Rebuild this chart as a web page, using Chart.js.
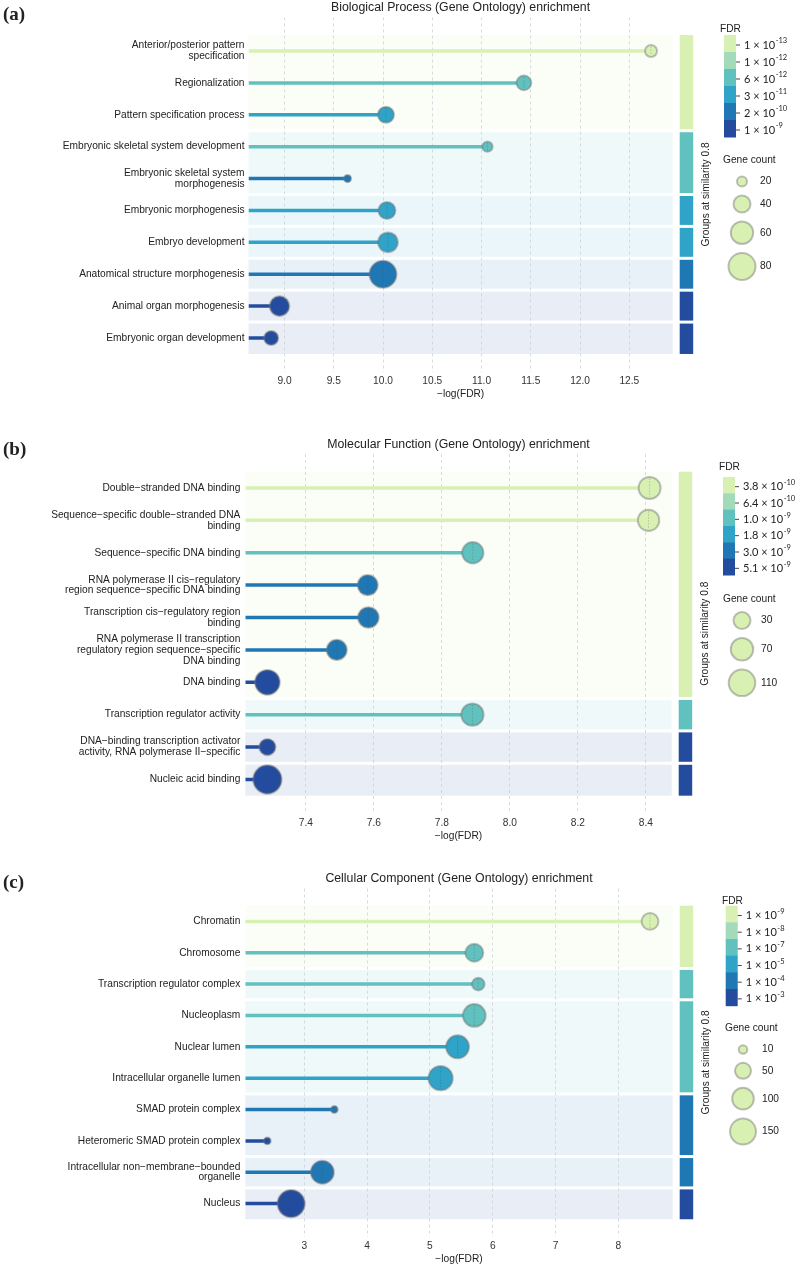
<!DOCTYPE html>
<html>
<head>
<meta charset="utf-8">
<script src="https://cdn.jsdelivr.net/npm/chart.js@4.4.1/dist/chart.umd.min.js"></script>
<style>
  html, body { margin: 0; padding: 0; background: #fff; }
  body { width: 797px; height: 1269px; position: relative; overflow: hidden; }
  .panel { position: absolute; left: 0; width: 797px; }
</style>
</head>
<body>
<div class="panel" style="top:0;height:420px"><canvas id="chart-a"></canvas></div>
<div class="panel" style="top:420px;height:430px"><canvas id="chart-b"></canvas></div>
<div class="panel" style="top:850px;height:419px"><canvas id="chart-c"></canvas></div>
<script>
// FDR colour steps, light -> dark
const palette = ['#d9f0b3', '#a3dab9', '#60c1bf', '#2fa3c8', '#1f77b4', '#234c9f'];

// (a) Biological Process
const bpTerms = [['Anterior/posterior pattern', 'specification'], 'Regionalization', 'Pattern specification process',
  'Embryonic skeletal system development', ['Embryonic skeletal system', 'morphogenesis'], 'Embryonic morphogenesis',
  'Embryo development', 'Anatomical structure morphogenesis', 'Animal organ morphogenesis', 'Embryonic organ development'];
const bpLogFdr = [12.72, 11.43, 10.03, 11.06, 9.64, 10.04, 10.05, 10.0, 8.95, 8.865];
const bpGeneCount = [25, 33, 37, 21, 14, 40, 50, 80, 49, 31];
const bpFdrLevel = [0, 2, 3, 2, 4, 3, 3, 4, 5, 5];
const bpGroup = [0, 0, 0, 1, 1, 2, 3, 4, 5, 6];
const bpGroupLevel = [0, 2, 3, 3, 4, 5, 5];
const bpFdrMantissa = ['1', '1', '6', '3', '2', '1'];
const bpFdrExponent = ['-13', '-12', '-12', '-11', '-10', '-9'];
const bpSizeBreaks = [20, 40, 60, 80];
const bpXTicks = [9.0, 9.5, 10.0, 10.5, 11.0, 11.5, 12.0, 12.5];

// (b) Molecular Function
const mfTerms = ['Double\u2212stranded DNA binding', ['Sequence\u2212specific double\u2212stranded DNA', 'binding'],
  'Sequence\u2212specific DNA binding', ['RNA polymerase II cis\u2212regulatory', 'region sequence\u2212specific DNA binding'],
  ['Transcription cis\u2212regulatory region', 'binding'],
  ['RNA polymerase II transcription', 'regulatory region sequence\u2212specific', 'DNA binding'],
  'DNA binding', 'Transcription regulator activity',
  ['DNA\u2212binding transcription activator', 'activity, RNA polymerase II\u2212specific'], 'Nucleic acid binding'];
const mfLogFdr = [8.411, 8.408, 7.891, 7.582, 7.584, 7.491, 7.287, 7.89, 7.287, 7.287];
const mfGeneCount = [65, 60, 60, 50, 55, 50, 90, 68, 26, 130];
const mfFdrLevel = [0, 0, 2, 4, 4, 4, 5, 2, 5, 5];
const mfGroup = [0, 0, 0, 0, 0, 0, 0, 1, 2, 3];
const mfGroupLevel = [0, 2, 5, 5];
const mfFdrMantissa = ['3.8', '6.4', '1.0', '1.8', '3.0', '5.1'];
const mfFdrExponent = ['-10', '-10', '-9', '-9', '-9', '-9'];
const mfSizeBreaks = [30, 70, 110];
const mfXTicks = [7.4, 7.6, 7.8, 8.0, 8.2, 8.4];

// (c) Cellular Component
const ccTerms = ['Chromatin', 'Chromosome', 'Transcription regulator complex', 'Nucleoplasm', 'Nuclear lumen',
  'Intracellular organelle lumen', 'SMAD protein complex', 'Heteromeric SMAD protein complex',
  ['Intracellular non\u2212membrane\u2212bounded', 'organelle'], 'Nucleus'];
const ccLogFdr = [8.505, 5.707, 5.77, 5.707, 5.44, 5.17, 3.478, 2.41, 3.287, 2.79];
const ccGeneCount = [55, 65, 28, 111, 114, 129, 5, 5, 114, 167];
const ccFdrLevel = [0, 2, 2, 2, 3, 3, 4, 5, 4, 5];
const ccGroup = [0, 0, 1, 2, 2, 2, 3, 3, 4, 5];
const ccGroupLevel = [0, 2, 2, 4, 4, 5];
const ccFdrMantissa = ['1', '1', '1', '1', '1', '1'];
const ccFdrExponent = ['-9', '-8', '-7', '-5', '-4', '-3'];
const ccSizeBreaks = [10, 50, 100, 150];
const ccXTicks = [3, 4, 5, 6, 7, 8];

const SANS = '"Liberation Sans", Arial, Helvetica, sans-serif';
const LATO = 'Lato, "Liberation Sans", sans-serif';
Chart.defaults.font.family = SANS;
Chart.defaults.color = '#333';

const panels = [
  {
    canvas: 'chart-a', tag: '(a)', tagY: 15, title: 'Biological Process (Gene Ontology) enrichment', titleY: 8,
    terms: bpTerms, logFdr: bpLogFdr, count: bpGeneCount, level: bpFdrLevel, group: bpGroup, groupLevel: bpGroupLevel,
    mant: bpFdrMantissa, exp: bpFdrExponent, sizes: bpSizeBreaks, xTicks: bpXTicks, digits: 1,
    height: 420, left: 248.5, right: 672.7, top: 17.5, bottom: 371.5, xMin: 8.635, xMax: 12.94, labelPad: 4,
    rA: -2.5, rB: 1.9,
    leg: { fdrX: 720, fdrY: 29, barX: 724, barTop: 35, barBottom: 137, geneX: 723, geneY: 160, cx: 742, textX: 760 },
  },
  {
    canvas: 'chart-b', tag: '(b)', tagY: 30, title: 'Molecular Function (Gene Ontology) enrichment', titleY: 25,
    terms: mfTerms, logFdr: mfLogFdr, count: mfGeneCount, level: mfFdrLevel, group: mfGroup, groupLevel: mfGroupLevel,
    mant: mfFdrMantissa, exp: mfFdrExponent, sizes: mfSizeBreaks, xTicks: mfXTicks, digits: 1,
    height: 430, left: 245.3, right: 671.7, top: 33.9, bottom: 393.5, xMin: 7.222, xMax: 8.476, labelPad: 5,
    rA: 4.25, rB: 0.958,
    leg: { fdrX: 719, fdrY: 47, barX: 723, barTop: 57, barBottom: 155, geneX: 723, geneY: 179, cx: 742, textX: 761 },
  },
  {
    canvas: 'chart-c', tag: '(c)', tagY: 33, title: 'Cellular Component (Gene Ontology) enrichment', titleY: 29,
    terms: ccTerms, logFdr: ccLogFdr, count: ccGeneCount, level: ccFdrLevel, group: ccGroup, groupLevel: ccGroupLevel,
    mant: ccFdrMantissa, exp: ccFdrExponent, sizes: ccSizeBreaks, xTicks: ccXTicks, digits: 0,
    height: 419, left: 245.3, right: 672.7, top: 38.5, bottom: 386.5, xMin: 2.06, xMax: 8.866, labelPad: 5,
    rA: 2.27, rB: 0.957,
    leg: { fdrX: 722, fdrY: 50.7, barX: 725.7, barTop: 55.7, barBottom: 155.7, geneX: 725, geneY: 178, cx: 743, textX: 762 },
  },
];

const ringColor = 'rgba(115,115,115,0.45)';

function tint(hex, a) {
  const n = parseInt(hex.slice(1), 16);
  const m = (c) => Math.round(255 - (255 - c) * a);
  return `rgb(${m((n >> 16) & 255)},${m((n >> 8) & 255)},${m(n & 255)})`;
}

function groupRanges(group) {
  const out = [];
  group.forEach((g, i) => {
    const last = out[out.length - 1];
    if (last && last[0] === g) last[2] = i;
    else out.push([g, i, i]);
  });
  return out;
}

const radiusOf = (p, n) => p.rA + p.rB * Math.sqrt(n);

function makeDecor(p) {
  return {
    id: 'decor',
    beforeDraw(chart) {
      const { ctx, chartArea: ca, scales: { y } } = chart;
      const n = p.terms.length;
      ctx.save();
      groupRanges(p.group).forEach(([g, s, e]) => {
        let top = y.getPixelForValue(s + 0.5);
        let bot = y.getPixelForValue(e + 1.5);
        if (s > 0) top += 1.5;
        if (e < n - 1) bot -= 1.5;
        const col = palette[p.groupLevel[g]];
        ctx.fillStyle = tint(col, 0.1);
        ctx.fillRect(ca.left, top, ca.right - ca.left, bot - top);
        ctx.fillStyle = col;
        ctx.fillRect(ca.right + 7, top, 13.5, bot - top);
      });
      ctx.restore();
    },
    afterDatasetsDraw(chart) {
      const { ctx } = chart;
      const meta = chart.getDatasetMeta(chart.data.datasets.length - 1);
      ctx.save();
      ctx.strokeStyle = 'rgba(80,80,80,0.35)';
      ctx.lineWidth = 0.8;
      ctx.setLineDash([1.5, 1.5]);
      meta.data.forEach((el) => {
        const r = el.options.radius;
        ctx.beginPath();
        ctx.moveTo(el.x, el.y - r + 1.5);
        ctx.lineTo(el.x, el.y + r - 1.5);
        ctx.stroke();
      });
      ctx.restore();
    },
    afterDraw(chart) {
      const { ctx, chartArea: ca, scales: { y } } = chart;
      const L = p.leg;
      ctx.save();
      ctx.textBaseline = 'middle';
      ctx.fillStyle = '#222';
      // panel tag
      ctx.font = 'bold 19px "Liberation Serif", "Times New Roman", serif';
      ctx.textAlign = 'left';
      ctx.fillText(p.tag, 3, p.tagY);
      // title
      ctx.font = `12.3px ${SANS}`;
      ctx.textAlign = 'center';
      ctx.fillText(p.title, (ca.left + ca.right) / 2, p.titleY);
      // group strip title
      const midY = (y.getPixelForValue(0.5) + y.getPixelForValue(p.terms.length + 0.5)) / 2;
      ctx.save();
      ctx.translate(ca.right + 33.5, midY);
      ctx.rotate(-Math.PI / 2);
      ctx.font = `10.2px ${SANS}`;
      ctx.fillText('Groups at similarity 0.8', 0, 0);
      ctx.restore();
      // FDR colour bar
      ctx.textAlign = 'left';
      ctx.font = `10.2px ${SANS}`;
      ctx.fillText('FDR', L.fdrX, L.fdrY);
      const seg = (L.barBottom - L.barTop) / palette.length;
      palette.forEach((c, i) => {
        ctx.fillStyle = c;
        ctx.fillRect(L.barX, L.barTop + i * seg, 12, seg + 0.5);
      });
      p.mant.forEach((m, i) => {
        const ty = L.barTop + (i + 0.5) * seg + 1.5;
        ctx.strokeStyle = '#444';
        ctx.lineWidth = 1;
        ctx.beginPath();
        ctx.moveTo(L.barX + 12, ty);
        ctx.lineTo(L.barX + 16, ty);
        ctx.stroke();
        ctx.fillStyle = '#222';
        ctx.font = `11px ${LATO}`;
        const base = `${m} \u00d7 10`;
        ctx.fillText(base, L.barX + 20, ty);
        const w = ctx.measureText(base).width;
        ctx.font = `7.5px ${LATO}`;
        ctx.fillText(p.exp[i], L.barX + 20 + w + 0.5, ty - 4);
      });
      // gene count sizes
      ctx.font = `10.2px ${SANS}`;
      ctx.fillStyle = '#222';
      ctx.fillText('Gene count', L.geneX, L.geneY);
      let cy = L.geneY + 21.5;
      p.sizes.forEach((v, i) => {
        const r = radiusOf(p, v);
        if (i > 0) cy += r;
        ctx.beginPath();
        ctx.arc(L.cx, cy, r - 1, 0, Math.PI * 2);
        ctx.fillStyle = palette[0];
        ctx.fill();
        ctx.lineWidth = 2;
        ctx.strokeStyle = ringColor;
        ctx.stroke();
        ctx.fillStyle = '#222';
        ctx.fillText(String(v), L.textX, cy);
        cy += r + 7;
      });
      ctx.restore();
    },
  };
}

function buildChart(p) {
  const lines = p.logFdr.map((v, i) => ({
    type: 'line',
    data: [{ x: p.xMin, y: i + 1 }, { x: v, y: i + 1 }],
    borderColor: palette[p.level[i]],
    borderWidth: 3.5,
    borderCapStyle: 'butt',
    pointRadius: 0,
    order: 2,
  }));
  const bubbles = {
    type: 'bubble',
    data: p.logFdr.map((v, i) => ({ x: v, y: i + 1, r: radiusOf(p, p.count[i]) - 1 })),
    backgroundColor: p.level.map((l) => palette[l]),
    borderColor: ringColor,
    borderWidth: 2,
    clip: false,
    order: 1,
  };
  return new Chart(document.getElementById(p.canvas), {
    type: 'bubble',
    data: { datasets: [...lines, bubbles] },
    options: {
      responsive: true,
      maintainAspectRatio: false,
      animation: false,
      events: [],
      layout: { padding: { left: 0, top: p.top, right: 797 - p.right, bottom: p.height - p.bottom - 29 } },
      plugins: { legend: { display: false }, tooltip: { enabled: false }, title: { display: false } },
      scales: {
        x: {
          type: 'linear',
          min: p.xMin,
          max: p.xMax,
          afterBuildTicks: (s) => { s.ticks = p.xTicks.map((v) => ({ value: v })); },
          afterFit: (s) => { s.height = 29; },
          ticks: {
            autoSkip: false,
            maxRotation: 0,
            padding: 3.5,
            color: '#333',
            font: { size: 10.2 },
            callback: (v) => Number(v).toFixed(p.digits),
          },
          grid: { color: '#cdd1d6', lineWidth: 0.8, drawTicks: false },
          border: { display: false, dash: [3, 3] },
          title: { display: true, text: '\u2212log(FDR)', color: '#222', font: { size: 10.2 }, padding: { top: 0, bottom: 0.5 } },
        },
        y: {
          type: 'linear',
          reverse: true,
          min: -0.05,
          max: p.terms.length + 1.05,
          afterBuildTicks: (s) => { s.ticks = p.terms.map((t, i) => ({ value: i + 1 })); },
          afterFit: (s) => { s.width = p.left; },
          ticks: {
            autoSkip: false,
            padding: p.labelPad,
            color: '#222',
            font: { size: 10.2, lineHeight: 1.06 },
            callback: (v) => p.terms[Math.round(v) - 1],
          },
          grid: { display: false, drawTicks: false },
          border: { display: false },
        },
      },
    },
    plugins: [makeDecor(p)],
  });
}

panels.forEach(buildChart);
</script>
</body>
</html>
